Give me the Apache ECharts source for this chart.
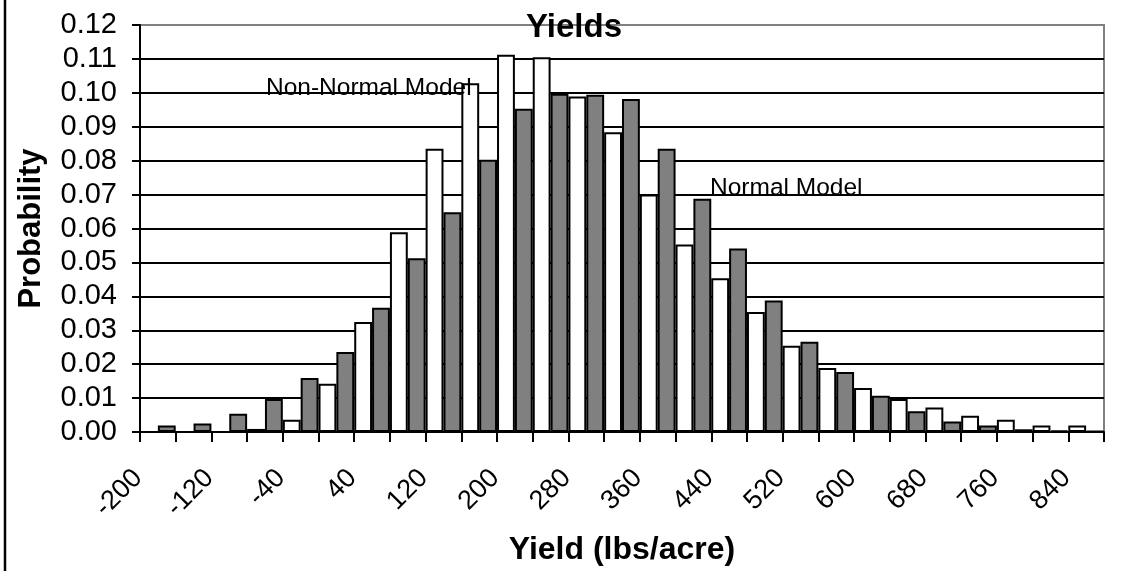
<!DOCTYPE html>
<html>
<head>
<meta charset="utf-8">
<script src="https://cdn.jsdelivr.net/npm/echarts@6/dist/echarts.min.js"></script>
<style>
  html, body { margin: 0; padding: 0; background: #fff; }
  #chart { width: 1127px; height: 571px; }
</style>
</head>
<body>
<div id="chart"></div>
<script>
// Yield bins (lbs/acre), one per bar pair
const yieldBins = ['-200', '-160', '-120', '-80', '-40', '0', '40', '80', '120', '160',
  '200', '240', '280', '320', '360', '400', '440', '480', '520', '560',
  '600', '640', '680', '720', '760', '800', '840'];

// Probability of each bin under the non-normal model (white bars)
const nonNormalModel = [0, 0, 0, 0.0009, 0.0036, 0.0142, 0.0324, 0.0589, 0.0835, 0.1028,
  0.1112, 0.1105, 0.0989, 0.0884, 0.0700, 0.0553, 0.0453, 0.0354, 0.0254, 0.0189,
  0.0130, 0.0097, 0.0072, 0.0048, 0.0036, 0.0019, 0.0019];

// Probability of each bin under the normal model (grey bars)
const normalModel = [0.0019, 0.0025, 0.0054, 0.0097, 0.0159, 0.0236, 0.0366, 0.0512, 0.0648, 0.0803,
  0.0953, 0.0997, 0.0994, 0.0982, 0.0835, 0.0688, 0.0541, 0.0388, 0.0266, 0.0177,
  0.0107, 0.0061, 0.0031, 0.0019, 0.0008, 0.0004, 0.0003];

const FONT = '"Liberation Sans", Arial, sans-serif';

const chart = echarts.init(document.getElementById('chart'), null, { renderer: 'canvas' });

chart.setOption({
  animation: false,
  backgroundColor: '#ffffff',
  textStyle: { fontFamily: FONT, color: '#000' },
  title: {
    text: 'Yields',
    left: 521,
    top: 5,
    textStyle: { fontFamily: FONT, fontSize: 33, fontWeight: 'bold', color: '#000', lineHeight: 36 }
  },
  grid: {
    left: 140, right: 23, top: 25, bottom: 138,
    show: true,
    borderColor: '#808080',
    borderWidth: 2,
    backgroundColor: 'transparent'
  },
  xAxis: {
    type: 'category',
    data: yieldBins,
    boundaryGap: true,
    name: 'Yield (lbs/acre)',
    nameLocation: 'middle',
    nameGap: 102,
    nameTextStyle: { fontFamily: FONT, fontSize: 32, fontWeight: 'bold', color: '#000' },
    axisLine: { show: true, lineStyle: { color: '#000', width: 2 } },
    axisTick: { show: true, interval: 0, length: 10, lineStyle: { color: '#000', width: 2 } },
    axisLabel: {
      interval: 1,
      rotate: 45,
      margin: 22,
      padding: [0, 28, 0, 0],
      fontFamily: FONT,
      fontSize: 27,
      color: '#000'
    },
    splitLine: { show: false }
  },
  yAxis: {
    type: 'value',
    min: 0,
    max: 0.12,
    interval: 0.01,
    name: 'Probability',
    nameLocation: 'middle',
    nameGap: 93,
    nameRotate: 90,
    nameTextStyle: { fontFamily: FONT, fontSize: 31, fontWeight: 'bold', color: '#000' },
    axisLine: { show: true, lineStyle: { color: '#000', width: 2 } },
    axisTick: { show: true, length: 8, lineStyle: { color: '#000', width: 2 } },
    axisLabel: {
      margin: 23,
      fontFamily: FONT,
      fontSize: 29,
      color: '#000',
      formatter: v => v.toFixed(2)
    },
    splitLine: { show: true, showMaxLine: false, lineStyle: { color: '#000', width: 2 } }
  },
  series: [
    {
      name: 'Non-Normal Model',
      type: 'bar',
      data: nonNormalModel,
      barGap: '0%',
      barCategoryGap: '0%',
      itemStyle: { color: '#ffffff', borderColor: '#000', borderWidth: 2 }
    },
    {
      name: 'Normal Model',
      type: 'bar',
      data: normalModel,
      barGap: '0%',
      barCategoryGap: '0%',
      itemStyle: { color: '#808080', borderColor: '#000', borderWidth: 2 }
    }
  ],
  graphic: [
    {
      type: 'text',
      z: 100,
      style: { text: 'Non-Normal Model', x: 266, y: 88, verticalAlign: 'middle',
        font: '24.5px ' + FONT, fill: '#000' }
    },
    {
      type: 'text',
      z: 100,
      style: { text: 'Normal Model', x: 710, y: 188, verticalAlign: 'middle',
        font: '24.5px ' + FONT, fill: '#000' }
    },
    {
      type: 'line',
      z: 100,
      shape: { x1: 5, y1: 0, x2: 5, y2: 571 },
      style: { stroke: '#000', lineWidth: 2.5 }
    }
  ]
});
</script>
</body>
</html>
